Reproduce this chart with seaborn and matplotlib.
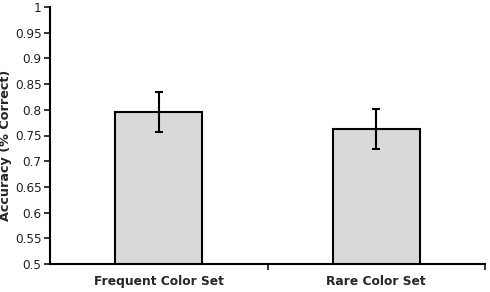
import matplotlib
matplotlib.use("Agg")
import matplotlib.pyplot as plt
import seaborn as sns
import numpy as np

categories = ["Frequent Color Set", "Rare Color Set"]
accuracy = [0.796, 0.762]
errors = [0.039, 0.039]
yticks = [0.5, 0.55, 0.6, 0.65, 0.7, 0.75, 0.8, 0.85, 0.9, 0.95, 1.0]
ytick_labels = ["0.5", "0.55", "0.6", "0.65", "0.7", "0.75", "0.8", "0.85", "0.9", "0.95", "1"]

sns.set_style("white")
plt.rcParams['font.family'] = ['DejaVu Sans']

fig = plt.figure(figsize=(4.9, 2.92), dpi=100)
ax = fig.add_axes([50/490, 1-264/292, 435/490, 257/292])

sns.barplot(x=categories, y=accuracy, color="#d9d9da", edgecolor="black",
            linewidth=1.5, width=0.4, ax=ax, saturation=1)
ax.errorbar(range(len(categories)), accuracy, yerr=errors, fmt="none",
            ecolor="black", elinewidth=1.5, capsize=3, capthick=1.5)

ax.set_xlim(-0.5, 1.5)
ax.set_ylim(0.5, 1.0)
ax.set_yticks(yticks)
ax.set_yticklabels(ytick_labels, fontsize=8.7, color="#222222")
ax.set_xticks([0, 1])
ax.set_xticklabels(categories, fontsize=8.8, fontweight="bold")
ax.tick_params(axis="x", which="major", length=0, pad=8)
ax.set_xticks([0.5, 1.5], minor=True)
ax.tick_params(axis="x", which="minor", length=4, width=1.3, direction="out", bottom=True)
ax.tick_params(axis="y", length=4, width=1.3, direction="out", left=True, pad=2)
ax.set_ylabel("Accuracy (% Correct)", fontsize=9.2, fontweight="bold")
ax.yaxis.set_label_coords(-0.087, 0.46)
ax.set_xlabel("")

for s in ["top", "right"]:
    ax.spines[s].set_visible(False)
for s in ["left", "bottom"]:
    ax.spines[s].set_linewidth(1.5)
    ax.spines[s].set_color("black")

fig.savefig("out.png", dpi=100)
